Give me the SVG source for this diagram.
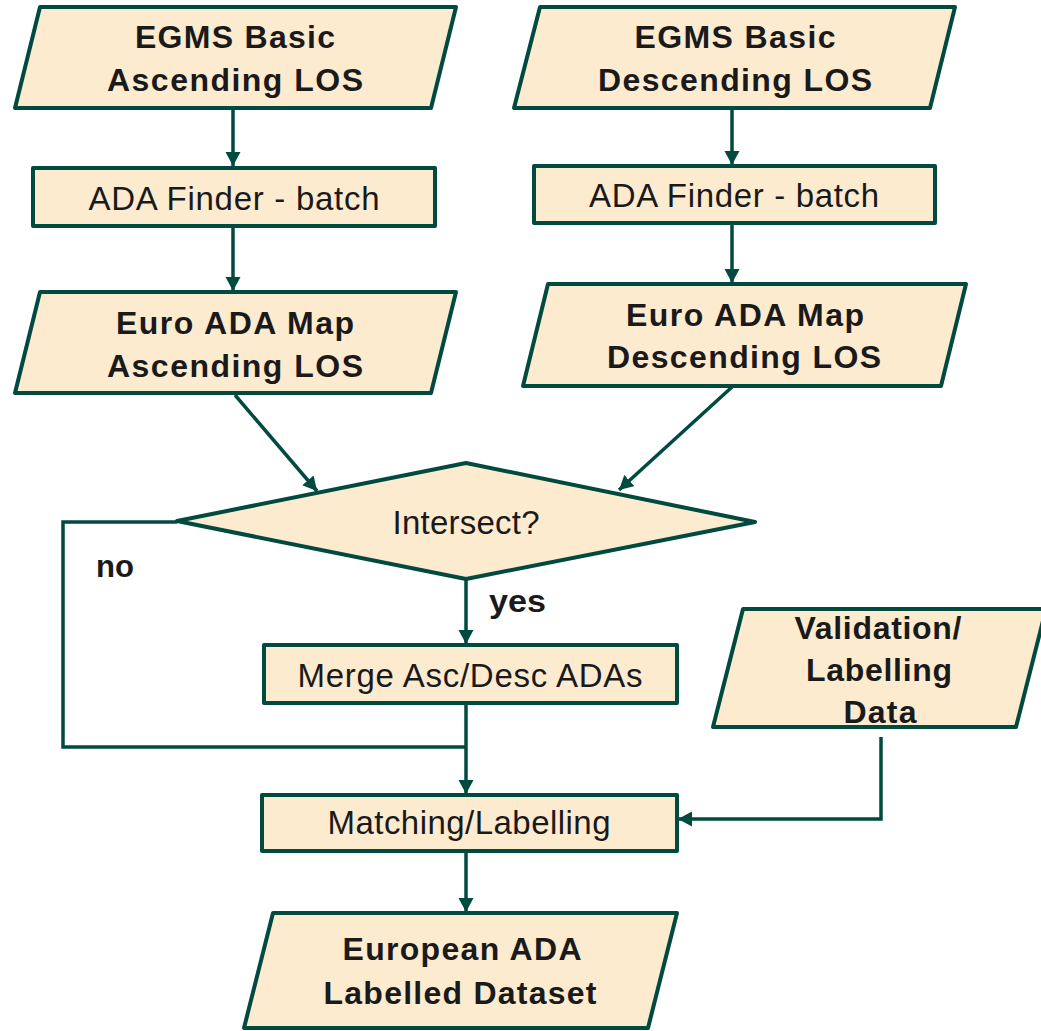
<svg xmlns="http://www.w3.org/2000/svg" width="1041" height="1031" viewBox="0 0 1041 1031">
<style>
.shape{fill:#FDEBD0;stroke:#004A3F;stroke-width:4;stroke-linejoin:round}
.conn{fill:none;stroke:#004A3F;stroke-width:3.5}
.b{font-family:"Liberation Sans",Arial,sans-serif;font-weight:bold;font-size:32px;fill:#1a1a1a;text-anchor:middle}
.r{font-family:"Liberation Sans",Arial,sans-serif;font-size:33px;fill:#1a1a1a;text-anchor:middle}
.lbl{font-family:"Liberation Sans",Arial,sans-serif;font-weight:bold;font-size:31px;fill:#1a1a1a}
</style>
<defs>
<marker id="arr" markerUnits="userSpaceOnUse" markerWidth="16" markerHeight="16" refX="14" refY="7.5" orient="auto">
<path d="M0,0 L14,7.5 L0,15 z" fill="#004A3F"/>
</marker>
</defs>
<rect width="1041" height="1031" fill="#ffffff"/>
<g id="connectors">
<line class="conn" x1="233" y1="108" x2="233" y2="166" marker-end="url(#arr)"/>
<line class="conn" x1="233" y1="226" x2="233" y2="291" marker-end="url(#arr)"/>
<line class="conn" x1="732" y1="108" x2="732" y2="165" marker-end="url(#arr)"/>
<line class="conn" x1="732" y1="223" x2="732" y2="283" marker-end="url(#arr)"/>
<line class="conn" x1="235" y1="395" x2="317" y2="491" marker-end="url(#arr)"/>
<line class="conn" x1="732" y1="387" x2="619" y2="490" marker-end="url(#arr)"/>
<line class="conn" x1="466" y1="579" x2="466" y2="644" marker-end="url(#arr)"/>
<polyline class="conn" points="177,522 63,522 63,747 466,747"/>
<line class="conn" x1="466" y1="703" x2="466" y2="794" marker-end="url(#arr)"/>
<polyline class="conn" points="881,737 881,819 678,819" marker-end="url(#arr)"/>
<line class="conn" x1="466" y1="851" x2="466" y2="912" marker-end="url(#arr)"/>
<text class="lbl" x="96" y="577" textLength="38" lengthAdjust="spacingAndGlyphs">no</text>
<text class="lbl" x="489" y="612" textLength="57" lengthAdjust="spacingAndGlyphs">yes</text>
</g>
<g id="egms-asc">
<polygon class="shape" points="40,7 456,7 431,108 15,108"/>
<text class="b" x="235" y="48" textLength="200" lengthAdjust="spacing">EGMS Basic</text>
<text class="b" x="235" y="91" textLength="256" lengthAdjust="spacing">Ascending LOS</text>
</g>
<g id="egms-desc">
<polygon class="shape" points="540,7 955,7 930,108 514,108"/>
<text class="b" x="735" y="48" textLength="201" lengthAdjust="spacing">EGMS Basic</text>
<text class="b" x="735" y="91" textLength="274" lengthAdjust="spacing">Descending LOS</text>
</g>
<g id="finder-asc">
<rect class="shape" x="33" y="168" width="402" height="58"/>
<text class="r" x="234" y="210" textLength="291" lengthAdjust="spacing">ADA Finder - batch</text>
</g>
<g id="finder-desc">
<rect class="shape" x="534" y="166" width="401" height="57"/>
<text class="r" x="734" y="207" textLength="290" lengthAdjust="spacing">ADA Finder - batch</text>
</g>
<g id="map-asc">
<polygon class="shape" points="40,292 456,292 431,393 15,393"/>
<text class="b" x="235" y="334" textLength="238" lengthAdjust="spacing">Euro ADA Map</text>
<text class="b" x="235" y="377" textLength="256" lengthAdjust="spacing">Ascending LOS</text>
</g>
<g id="map-desc">
<polygon class="shape" points="548,284 966,284 941,386 523,386"/>
<text class="b" x="745" y="326" textLength="238" lengthAdjust="spacing">Euro ADA Map</text>
<text class="b" x="744" y="368" textLength="274" lengthAdjust="spacing">Descending LOS</text>
</g>
<g id="intersect">
<polygon class="shape" points="177,521 466,463 755,522 466,579"/>
<text class="r" x="466" y="534" textLength="147" lengthAdjust="spacing">Intersect?</text>
</g>
<g id="merge">
<rect class="shape" x="264" y="645" width="413" height="58"/>
<text class="r" x="470" y="687" textLength="345" lengthAdjust="spacing">Merge Asc/Desc ADAs</text>
</g>
<g id="validation">
<polygon class="shape" points="743,609 1046,609 1016,727 713,727"/>
<text class="b" x="878" y="639" textLength="167" lengthAdjust="spacing">Validation/</text>
<text class="b" x="879" y="681" textLength="146" lengthAdjust="spacing">Labelling</text>
<text class="b" x="880" y="723" textLength="73" lengthAdjust="spacing">Data</text>
</g>
<g id="matching">
<rect class="shape" x="262" y="795" width="415" height="56"/>
<text class="r" x="469" y="834" textLength="283" lengthAdjust="spacing">Matching/Labelling</text>
</g>
<g id="european">
<polygon class="shape" points="273,913 677,913 648,1028 244,1028"/>
<text class="b" x="462" y="960" textLength="239" lengthAdjust="spacing">European ADA</text>
<text class="b" x="460" y="1004" textLength="273" lengthAdjust="spacing">Labelled Dataset</text>
</g>
</svg>
